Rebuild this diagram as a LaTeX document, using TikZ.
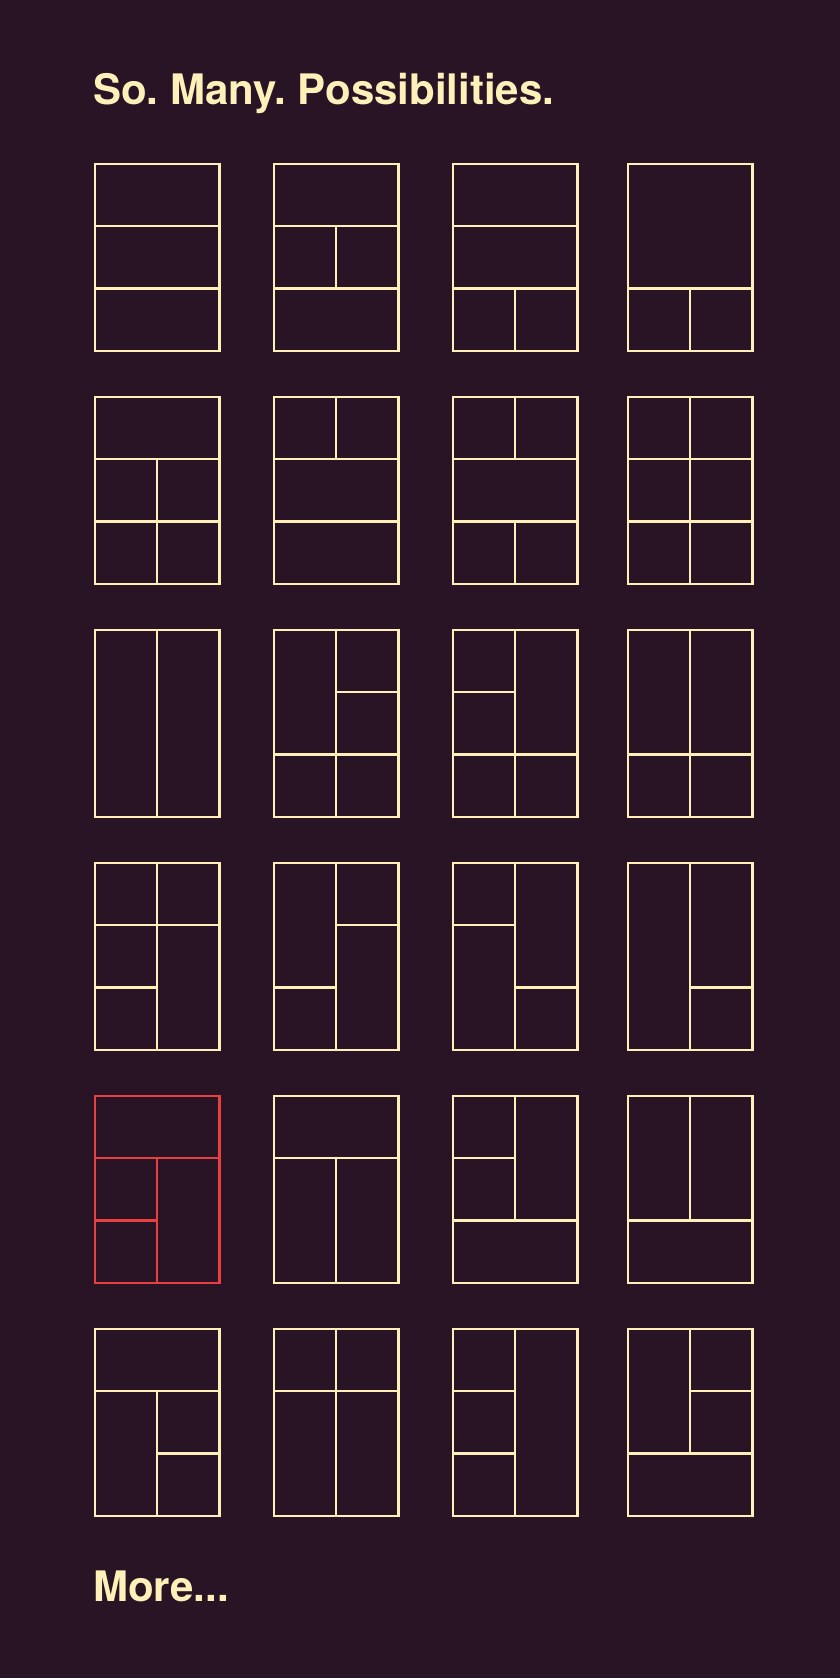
\documentclass[tikz,border=0pt]{standalone}
\usepackage{fontspec}
\setmainfont{TeX Gyre Heros}
\usepackage{tikz}
\usetikzlibrary{calc}
\frenchspacing

\definecolor{plum}{RGB}{40,20,36}
\definecolor{cream}{RGB}{255,240,186}
\definecolor{coral}{RGB}{232,64,64}

\begin{document}
\begin{tikzpicture}[x=1pt,y=-1pt,
		grid/.style={line width=2.4pt,color=cream},
		pick/.style={line width=2.4pt,color=coral},
		heading/.style={color=cream,inner sep=0pt,anchor=base west,font=\fontsize{42}{48}\selectfont\bfseries},
		panel/.style={x=62.25pt,y=-62.25pt}]
				\fill[plum] (0,0) rectangle (840,1678);
				\node[heading] (title) at (93,104) {So. Many. Possibilities.};
				% row 1
				\begin{scope}[shift={(95,164)},panel]
					\draw[grid] (0,0) rectangle (2,3) (0,1)--(2,1) (0,2)--(2,2);
				\end{scope}
				\begin{scope}[shift={(274,164)},panel]
					\draw[grid] (0,0) rectangle (2,3) (0,1)--(2,1) (0,2)--(2,2) (1,1)--(1,2);
				\end{scope}
				\begin{scope}[shift={(453,164)},panel]
					\draw[grid] (0,0) rectangle (2,3) (0,1)--(2,1) (0,2)--(2,2) (1,2)--(1,3);
				\end{scope}
				\begin{scope}[shift={(628,164)},panel]
					\draw[grid] (0,0) rectangle (2,3) (0,2)--(2,2) (1,2)--(1,3);
				\end{scope}
				% row 2
				\begin{scope}[shift={(95,397)},panel]
					\draw[grid] (0,0) rectangle (2,3) (0,1)--(2,1) (0,2)--(2,2) (1,1)--(1,3);
				\end{scope}
				\begin{scope}[shift={(274,397)},panel]
					\draw[grid] (0,0) rectangle (2,3) (0,1)--(2,1) (0,2)--(2,2) (1,0)--(1,1);
				\end{scope}
				\begin{scope}[shift={(453,397)},panel]
					\draw[grid] (0,0) rectangle (2,3) (0,1)--(2,1) (0,2)--(2,2) (1,0)--(1,1) (1,2)--(1,3);
				\end{scope}
				\begin{scope}[shift={(628,397)},panel]
					\draw[grid] (0,0) rectangle (2,3) (0,1)--(2,1) (0,2)--(2,2) (1,0)--(1,3);
				\end{scope}
				% row 3
				\begin{scope}[shift={(95,630)},panel]
					\draw[grid] (0,0) rectangle (2,3) (1,0)--(1,3);
				\end{scope}
				\begin{scope}[shift={(274,630)},panel]
					\draw[grid] (0,0) rectangle (2,3) (1,0)--(1,3) (1,1)--(2,1) (0,2)--(2,2);
				\end{scope}
				\begin{scope}[shift={(453,630)},panel]
					\draw[grid] (0,0) rectangle (2,3) (1,0)--(1,3) (0,1)--(1,1) (0,2)--(2,2);
				\end{scope}
				\begin{scope}[shift={(628,630)},panel]
					\draw[grid] (0,0) rectangle (2,3) (1,0)--(1,3) (0,2)--(2,2);
				\end{scope}
				% row 4
				\begin{scope}[shift={(95,863)},panel]
					\draw[grid] (0,0) rectangle (2,3) (1,0)--(1,3) (0,1)--(2,1) (0,2)--(1,2);
				\end{scope}
				\begin{scope}[shift={(274,863)},panel]
					\draw[grid] (0,0) rectangle (2,3) (1,0)--(1,3) (1,1)--(2,1) (0,2)--(1,2);
				\end{scope}
				\begin{scope}[shift={(453,863)},panel]
					\draw[grid] (0,0) rectangle (2,3) (1,0)--(1,3) (0,1)--(1,1) (1,2)--(2,2);
				\end{scope}
				\begin{scope}[shift={(628,863)},panel]
					\draw[grid] (0,0) rectangle (2,3) (1,0)--(1,3) (1,2)--(2,2);
				\end{scope}
				% row 5
				\begin{scope}[shift={(95,1096)},panel]
					\draw[pick] (0,0) rectangle (2,3) (0,1)--(2,1) (1,1)--(1,3) (0,2)--(1,2);
				\end{scope}
				\begin{scope}[shift={(274,1096)},panel]
					\draw[grid] (0,0) rectangle (2,3) (0,1)--(2,1) (1,1)--(1,3);
				\end{scope}
				\begin{scope}[shift={(453,1096)},panel]
					\draw[grid] (0,0) rectangle (2,3) (1,0)--(1,2) (0,1)--(1,1) (0,2)--(2,2);
				\end{scope}
				\begin{scope}[shift={(628,1096)},panel]
					\draw[grid] (0,0) rectangle (2,3) (1,0)--(1,2) (0,2)--(2,2);
				\end{scope}
				% row 6
				\begin{scope}[shift={(95,1329)},panel]
					\draw[grid] (0,0) rectangle (2,3) (0,1)--(2,1) (1,1)--(1,3) (1,2)--(2,2);
				\end{scope}
				\begin{scope}[shift={(274,1329)},panel]
					\draw[grid] (0,0) rectangle (2,3) (1,0)--(1,3) (0,1)--(2,1);
				\end{scope}
				\begin{scope}[shift={(453,1329)},panel]
					\draw[grid] (0,0) rectangle (2,3) (1,0)--(1,3) (0,1)--(1,1) (0,2)--(1,2);
				\end{scope}
				\begin{scope}[shift={(628,1329)},panel]
					\draw[grid] (0,0) rectangle (2,3) (1,0)--(1,2) (1,1)--(2,1) (0,2)--(2,2);
				\end{scope}
				\node[heading] (more) at (93,1601) {More...};
			\end{tikzpicture}
\end{document}
